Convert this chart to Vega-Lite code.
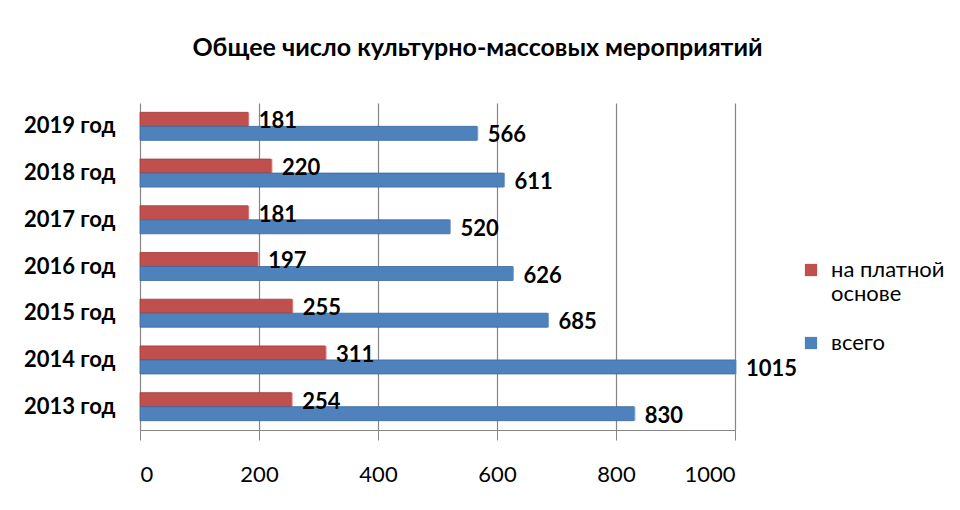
{
  "$schema": "https://vega.github.io/schema/vega-lite/v6.json",
  "width": 595,
  "height": 327,
  "autosize": {"type": "none"},
  "padding": {"left": 140, "top": 103, "right": 225, "bottom": 80},
  "background": "white",
  "config": {
    "font": "Lato",
    "view": {"stroke": null}
  },
  "title": {
    "text": "Общее число культурно-массовых мероприятий",
    "fontSize": 25,
    "fontWeight": "bold",
    "color": "#000000",
    "anchor": "middle",
    "frame": "group",
    "dx": 40,
    "offset": 42
  },
  "data": {
    "values": [
      {"year": "2019 год", "series": "на платной основе", "value": 181},
      {"year": "2019 год", "series": "всего", "value": 566},
      {"year": "2018 год", "series": "на платной основе", "value": 220},
      {"year": "2018 год", "series": "всего", "value": 611},
      {"year": "2017 год\u00a0\u00a0", "series": "на платной основе", "value": 181},
      {"year": "2017 год\u00a0\u00a0", "series": "всего", "value": 520},
      {"year": "2016 год", "series": "на платной основе", "value": 197},
      {"year": "2016 год", "series": "всего", "value": 626},
      {"year": "2015 год", "series": "на платной основе", "value": 255},
      {"year": "2015 год", "series": "всего", "value": 685},
      {"year": "2014 год", "series": "на платной основе", "value": 311},
      {"year": "2014 год", "series": "всего", "value": 1015},
      {"year": "2013 год", "series": "на платной основе", "value": 254},
      {"year": "2013 год", "series": "всего", "value": 830}
    ]
  },
  "encoding": {
    "y": {
      "field": "year",
      "type": "nominal",
      "sort": null,
      "title": null,
      "scale": {"paddingInner": 0.4, "paddingOuter": 0.2},
      "axis": {
        "labelFontSize": 22,
        "labelFontWeight": "bold",
        "labelColor": "#000000",
        "labelPadding": 25,
        "ticks": false,
        "domain": false
      }
    },
    "yOffset": {
      "field": "series",
      "type": "nominal",
      "scale": {"domain": ["на платной основе", "всего"]}
    },
    "x": {
      "field": "value",
      "type": "quantitative",
      "title": null,
      "scale": {"domain": [0, 1000], "nice": false, "clamp": true},
      "axis": {
        "values": [0, 200, 400, 600, 800, 1000],
        "format": "d",
        "labelFontSize": 22,
        "labelColor": "#000000",
        "labelPadding": 24,
        "tickSize": 10,
        "tickColor": "#868686",
        "domainColor": "#868686",
        "gridColor": "#868686",
        "gridWidth": 1.2
      }
    }
  },
  "layer": [
    {
      "mark": {"type": "bar", "strokeWidth": 0.8},
      "encoding": {
        "color": {
          "field": "series",
          "type": "nominal",
          "scale": {"domain": ["на платной основе", "всего"], "range": ["#C0504D", "#4F81BD"]},
          "legend": {
            "title": null,
            "orient": "none",
            "legendX": 660,
            "legendY": 156,
            "symbolType": "square",
            "symbolSize": 150,
            "symbolStrokeWidth": 0,
            "labelFontSize": 22,
            "labelColor": "#000000",
            "labelOffset": 9,
            "rowPadding": 27,
            "labelLimit": 200,
            "labelExpr": "datum.label == 'на платной основе' ? ['на платной', 'основе'] : datum.label"
          }
        },
        "stroke": {
          "field": "series",
          "type": "nominal",
          "scale": {"domain": ["на платной основе", "всего"], "range": ["#A03A37", "#3A689E"]},
          "legend": null
        }
      }
    },
    {
      "mark": {"type": "tick", "thickness": 3, "orient": "vertical"},
      "encoding": {
        "color": {
          "field": "series",
          "type": "nominal",
          "scale": {"domain": ["на платной основе", "всего"], "range": ["#8C2D2A", "#2C5386"]},
          "legend": null
        }
      }
    },
    {
      "mark": {"type": "text", "align": "left", "baseline": "middle", "dx": 11, "dy": 2, "fontSize": 22, "fontWeight": "bold", "color": "#000000"},
      "encoding": {
        "text": {"field": "value", "type": "quantitative"}
      }
    }
  ]
}
